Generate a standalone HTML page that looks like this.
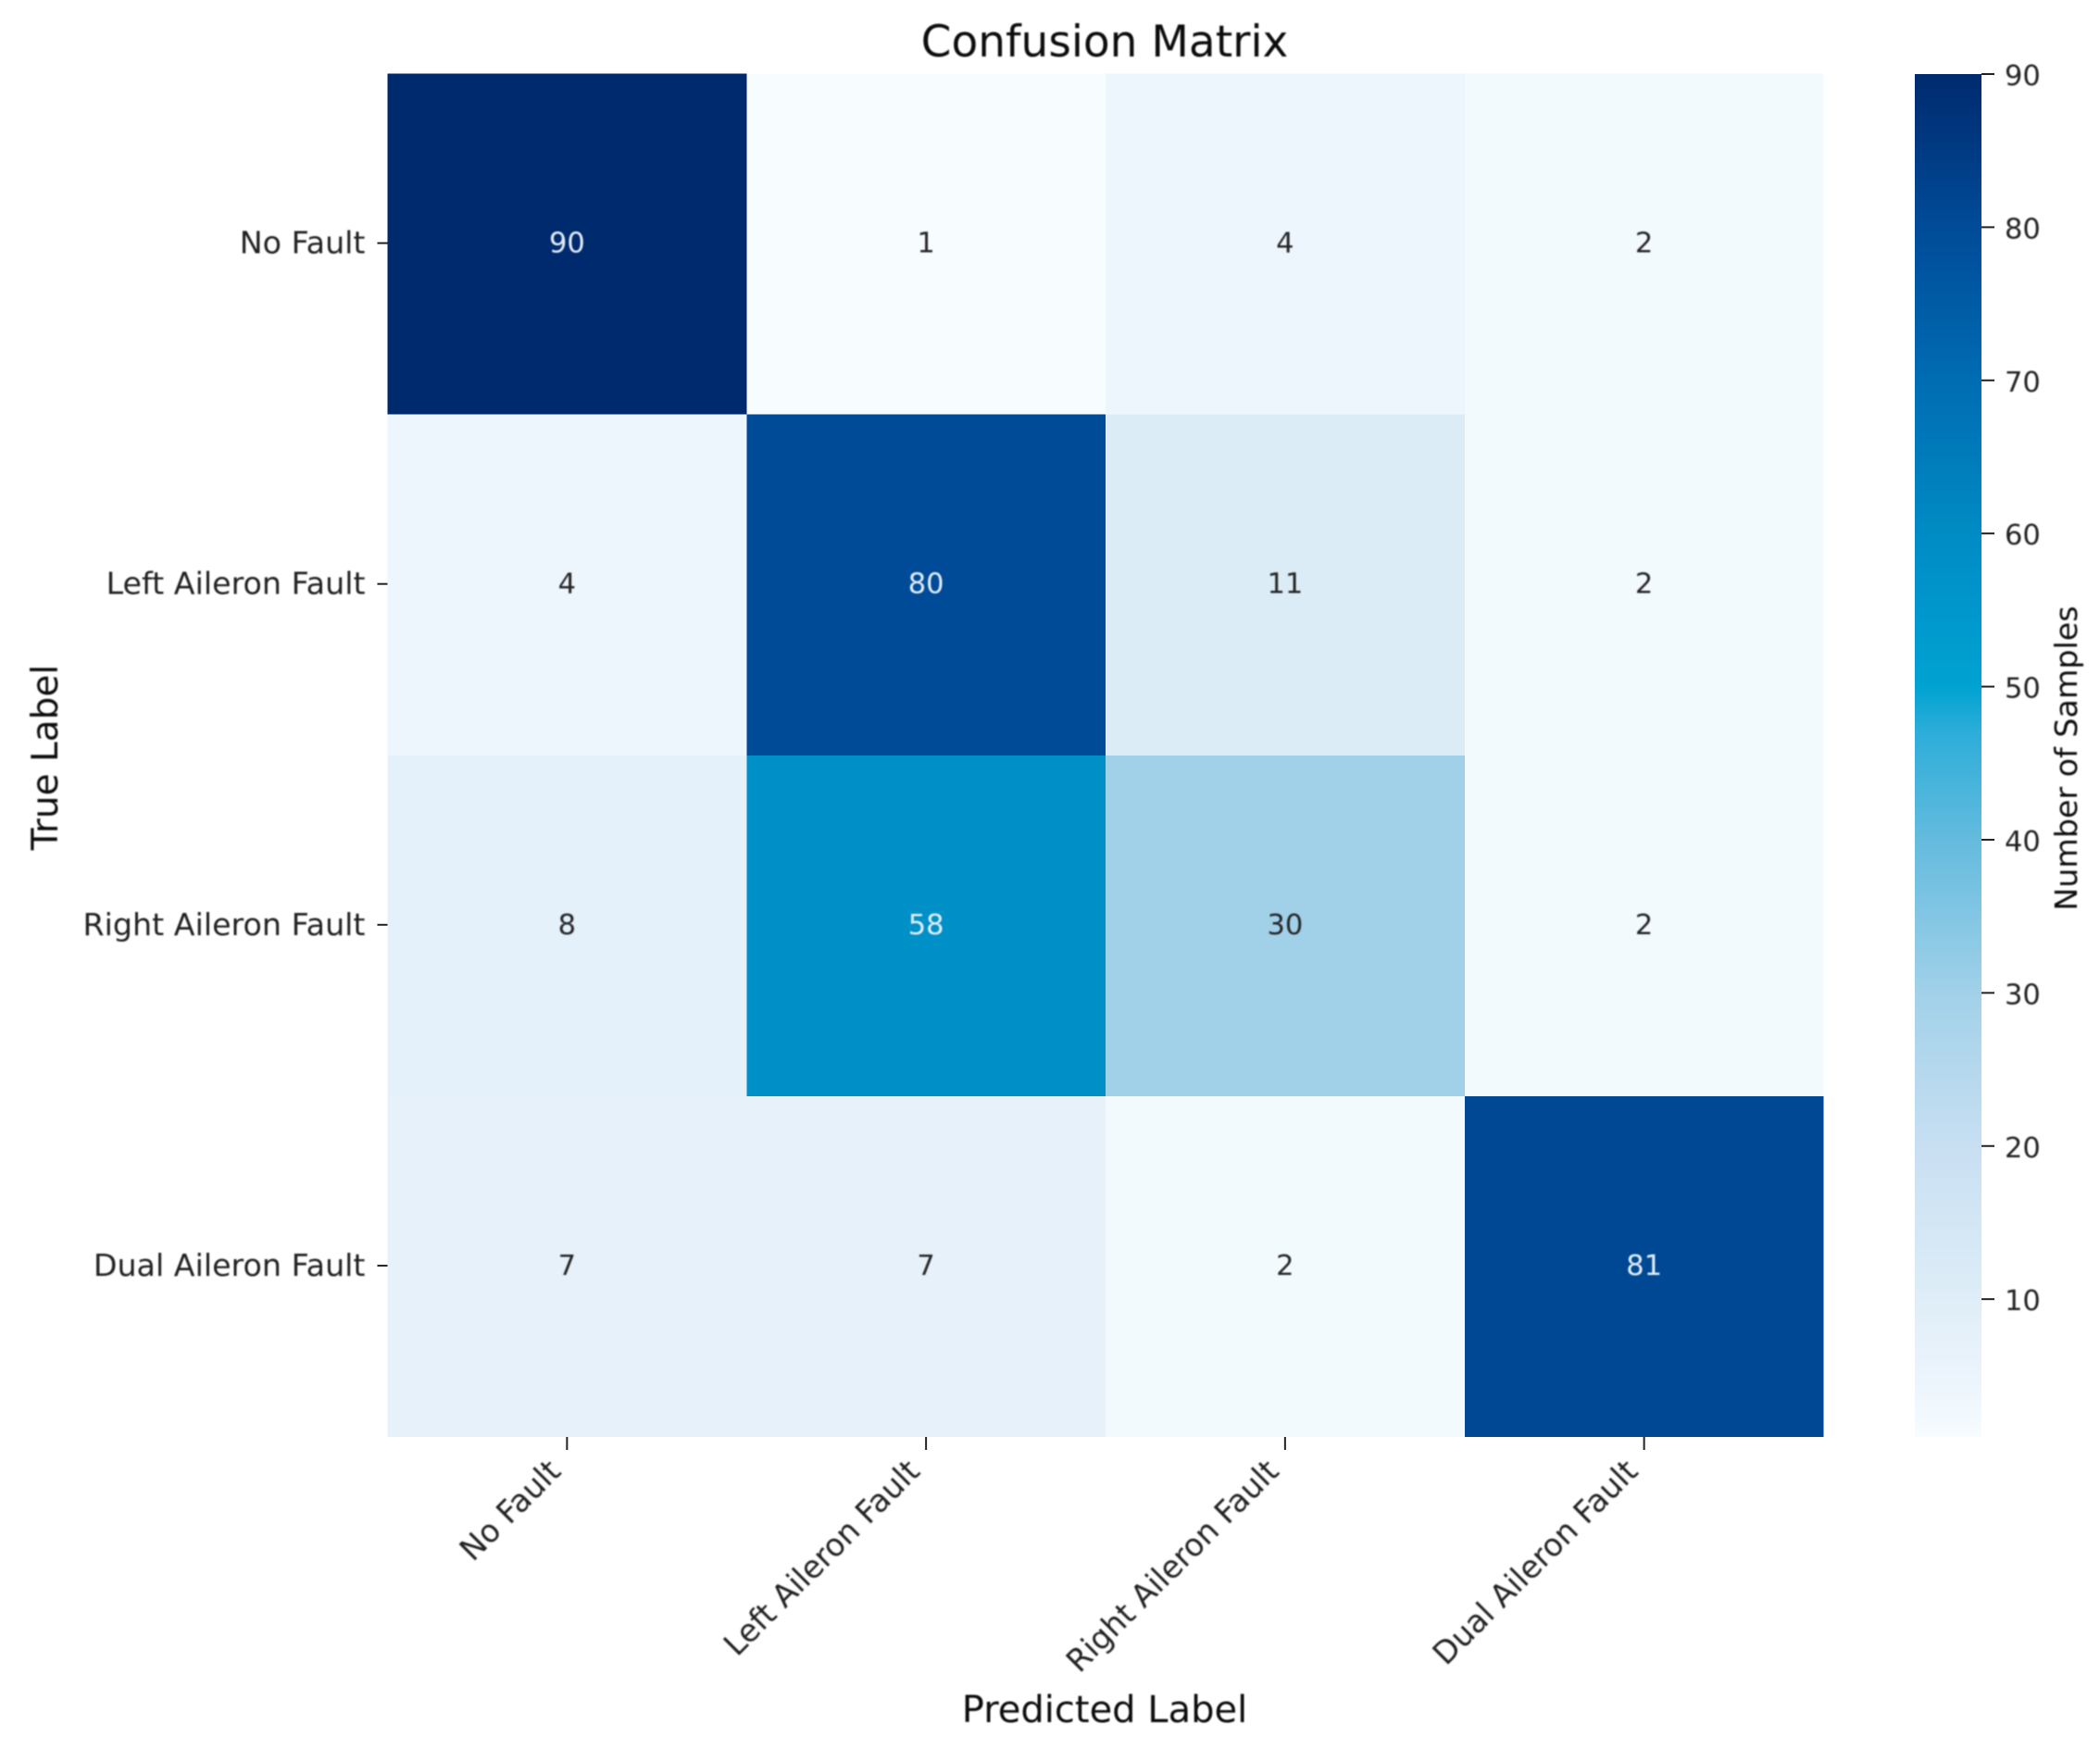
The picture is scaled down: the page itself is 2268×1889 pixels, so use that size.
<!DOCTYPE html>
<html>
<head>
<meta charset="utf-8">
<title>Confusion Matrix</title>
<style>
html,body{margin:0;padding:0;background:#fff;}
svg{display:block;}
text{font-family:"DejaVu Sans","Liberation Sans",sans-serif;}
</style>
</head>
<body>
<svg id="chart" xmlns="http://www.w3.org/2000/svg" width="2268" height="1889" viewBox="0 0 2268 1889">
<rect width="2268" height="1889" fill="#ffffff"/>
<defs>
<linearGradient id="cbGrad" x1="0" y1="1" x2="0" y2="0"></linearGradient>
<filter id="soft" x="-5%" y="-5%" width="110%" height="110%"><feGaussianBlur stdDeviation="0.7"/></filter>
</defs>
<text x="1193" y="61" font-size="47" text-anchor="middle" fill="#111" filter="url(#soft)">Confusion Matrix</text>
<text x="1193" y="1860" font-size="40" text-anchor="middle" fill="#111" filter="url(#soft)">Predicted Label</text>
<text transform="translate(62,818) rotate(-90)" font-size="39" text-anchor="middle" fill="#111" filter="url(#soft)">True Label</text>
<text transform="translate(2243,819) rotate(-90)" font-size="33.3" text-anchor="middle" fill="#111" filter="url(#soft)">Number of Samples</text>
<g id="cells"></g>
<g id="xaxis"></g>
<g id="yaxis"></g>
<g id="colorbar"></g>
</svg>
<script>
const categories = ["No Fault", "Left Aileron Fault", "Right Aileron Fault", "Dual Aileron Fault"];
const rowNoFault = [90, 1, 4, 2];
const rowLeftAileron = [4, 80, 11, 2];
const rowRightAileron = [8, 58, 30, 2];
const rowDualAileron = [7, 7, 2, 81];
const matrixRows = [rowNoFault, rowLeftAileron, rowRightAileron, rowDualAileron];
const colorbarTicks = [10, 20, 30, 40, 50, 60, 70, 80, 90];
const colorStopValues = [1, 2, 4, 7, 8, 11, 20, 30, 40, 47, 50, 58, 60, 70, 80, 90];
const colorStopColors = ["#f7fcff", "#f3fafe", "#eef6fd", "#e7f1fa", "#e4f0fa", "#dcecf7", "#c8dff2", "#a1d1e9", "#64bbde", "#2dadd9", "#00a3d2", "#0090c8", "#008bc3", "#006cb2", "#004b98", "#002a6e"];

const valueMin = 1;
const valueMax = 90;
const NS = "http://www.w3.org/2000/svg";
const plot = {left: 418.5, right: 1969.5, top: 79.5, bottom: 1552};
const bar = {left: 2068, right: 2140, top: 80, bottom: 1552};

function xBand(i) { return plot.left + (plot.right - plot.left) * i / categories.length; }
function yBand(i) { return plot.top + (plot.bottom - plot.top) * i / matrixRows.length; }
function cbY(v) { return bar.bottom - (bar.bottom - bar.top) * (v - valueMin) / (valueMax - valueMin); }
function hexToRgb(h) { return [1, 3, 5].map(function (p) { return parseInt(h.substr(p, 2), 16); }); }
function colorFor(v) {
  const t = Math.max(valueMin, Math.min(valueMax, v));
  for (let i = 0; i < colorStopValues.length - 1; i++) {
    if (t <= colorStopValues[i + 1]) {
      const f = (t - colorStopValues[i]) / (colorStopValues[i + 1] - colorStopValues[i]);
      const a = hexToRgb(colorStopColors[i]);
      const b = hexToRgb(colorStopColors[i + 1]);
      return "rgb(" + a.map(function (c, k) { return Math.round(c + (b[k] - c) * f); }).join(",") + ")";
    }
  }
  return colorStopColors[colorStopColors.length - 1];
}
function make(tag, attrs, parent, content) {
  const el = document.createElementNS(NS, tag);
  Object.keys(attrs).forEach(function (k) { el.setAttribute(k, attrs[k]); });
  if (content !== undefined) el.textContent = content;
  parent.appendChild(el);
  return el;
}

const cellsG = document.getElementById("cells");
const xG = document.getElementById("xaxis");
const yG = document.getElementById("yaxis");
const cbG = document.getElementById("colorbar");

matrixRows.forEach(function (row, r) {
  row.forEach(function (value, c) {
    const x0 = xBand(c), x1 = xBand(c + 1), y0 = yBand(r), y1 = yBand(r + 1);
    const rect = make("rect", {x: x0, y: y0, width: x1 - x0, height: y1 - y0, fill: colorFor(value), "shape-rendering": "crispEdges"}, cellsG);
    
    
    const label = make("text", {x: (x0 + x1) / 2, y: (y0 + y1) / 2 + 9, "font-size": 30.5, "text-anchor": "middle", fill: value > 45 ? "#e3eef8" : "#262626", filter: "url(#soft)"}, cellsG, String(value));
    
    
  });
});

categories.forEach(function (name, i) {
  const cx = (xBand(i) + xBand(i + 1)) / 2;
  const tick = make("line", {x1: cx, x2: cx, y1: plot.bottom, y2: plot.bottom + 14, stroke: "#222", "stroke-width": 2}, xG);
  
  
  const label = make("text", {transform: "translate(" + (cx - 5) + "," + (plot.bottom + 39) + ") rotate(-45)", "font-size": 33.5, "text-anchor": "end", fill: "#222", filter: "url(#soft)"}, xG, name);
  
  

  const cy = (yBand(i) + yBand(i + 1)) / 2;
  const ytick = make("line", {x1: plot.left - 11, x2: plot.left, y1: cy - 1, y2: cy - 1, stroke: "#222", "stroke-width": 2}, yG);
  
  
  const ylabel = make("text", {x: plot.left - 24, y: cy + 10, "font-size": 33.3, "text-anchor": "end", fill: "#222", filter: "url(#soft)"}, yG, name);
  
  
});

const grad = document.getElementById("cbGrad");
colorStopValues.forEach(function (v, i) {
  make("stop", {offset: (v - valueMin) / (valueMax - valueMin), "stop-color": colorStopColors[i]}, grad);
});
const cbRect = make("rect", {x: bar.left, y: bar.top, width: bar.right - bar.left, height: bar.bottom - bar.top, fill: "url(#cbGrad)"}, cbG);


colorbarTicks.forEach(function (v) {
  const y = cbY(v);
  const t = make("line", {x1: bar.right, x2: bar.right + 14, y1: y, y2: y, stroke: "#222", "stroke-width": 2}, cbG);
  
  
  const l = make("text", {x: bar.right + 25, y: y + 12, "font-size": 30.5, fill: "#222", filter: "url(#soft)"}, cbG, String(v));
  
  
});
</script>
</body>
</html>
